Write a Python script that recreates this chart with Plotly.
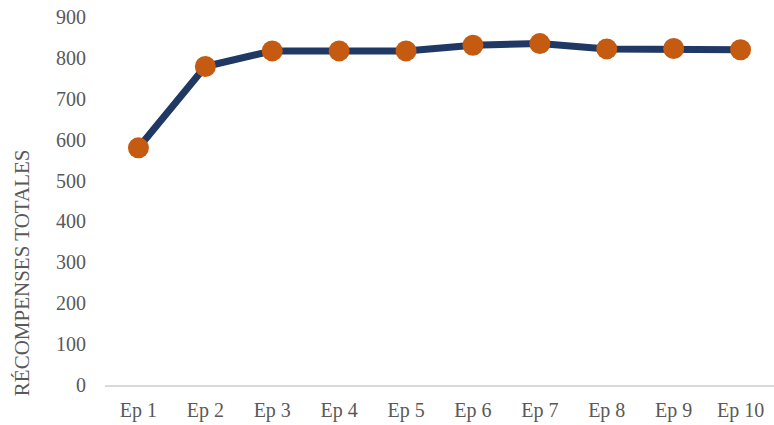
import plotly.graph_objects as go

episodes = ["Ep 1", "Ep 2", "Ep 3", "Ep 4", "Ep 5", "Ep 6", "Ep 7", "Ep 8", "Ep 9", "Ep 10"]
total_rewards = [580, 779, 817, 817, 817, 831, 835, 822, 823, 820]
y_ticks = [0, 100, 200, 300, 400, 500, 600, 700, 800, 900]
y_title = "RÉCOMPENSES TOTALES"

fig = go.Figure()
fig.add_trace(go.Scatter(
    x=episodes,
    y=total_rewards,
    mode="lines+markers",
    line=dict(color="#1F3864", width=7),
    marker=dict(color="#C55A11", size=21),
    showlegend=False,
))

font = dict(family="Liberation Serif, Times New Roman, serif", size=20, color="#595959")

fig.update_layout(
    width=774,
    height=425,
    margin=dict(l=105, r=0, t=17, b=40),
    paper_bgcolor="white",
    plot_bgcolor="white",
    font=font,
    xaxis=dict(
        type="category",
        range=[-0.5, 9.5],
        showgrid=False,
        showline=True,
        linecolor="#D9D9D9",
        linewidth=1.5,
        ticks="outside",
        ticklen=6,
        tickcolor="rgba(0,0,0,0)",
        tickfont=font,
        zeroline=False,
    ),
    yaxis=dict(
        range=[0, 900],
        tickvals=y_ticks,
        showgrid=False,
        showline=False,
        zeroline=False,
        ticks="outside",
        ticklen=14,
        tickcolor="rgba(0,0,0,0)",
        tickfont=font,
    ),
    annotations=[dict(
        text=y_title,
        textangle=-90,
        xref="paper", yref="paper",
        x=-0.124, y=0.304,
        xanchor="center", yanchor="middle",
        showarrow=False,
        font=dict(family=font["family"], size=21, color="#595959"),
    )],
)

fig.write_html("out.html")
